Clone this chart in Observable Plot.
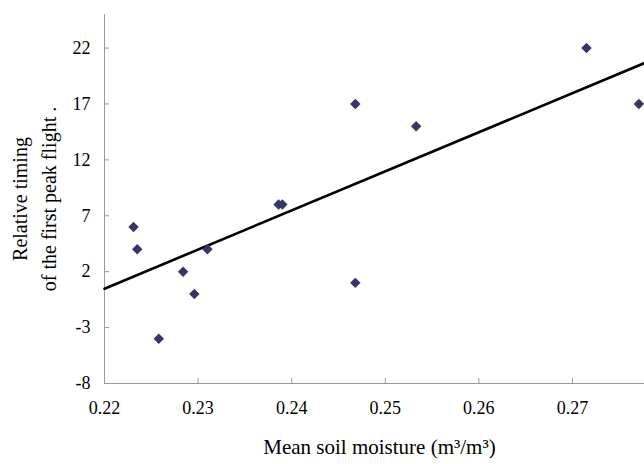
<!DOCTYPE html>
<html>
<head>
<meta charset="utf-8">
<script src="https://cdn.jsdelivr.net/npm/d3@7"></script>
<script src="https://cdn.jsdelivr.net/npm/@observablehq/plot@0.6"></script>
<style>
  html, body { margin: 0; padding: 0; background: #fff; }
  #chart { width: 644px; height: 464px; }
</style>
</head>
<body>
<div id="chart"></div>
<script>
// Data
const soilMoisture = [0.2231, 0.2235, 0.2258, 0.2284, 0.2296, 0.2310, 0.2386, 0.2390, 0.2468, 0.2468, 0.2533, 0.2715, 0.2771];
const relativeTiming = [6, 4, -4, 2, 0, 4, 8, 8, 17, 1, 15, 22, 17];
// Trend line end points (as drawn in the reference)
const trendX = [0.22, 0.2777];
const trendY = [0.48, 20.66];
// Axis ticks
const xTicks = [0.22, 0.23, 0.24, 0.25, 0.26, 0.27];
const yTicks = [-8, -3, 2, 7, 12, 17, 22];
const xDomain = [0.22, 0.2777];
const yDomain = [-8, 25];

const points = soilMoisture.map((x, i) => ({x, y: relativeTiming[i]}));
const trend = trendX.map((x, i) => ({x, y: trendY[i]}));

const axisColor = "#9a9a9a";
const font = "'Liberation Serif', 'Times New Roman', serif";

const chart = Plot.plot({
  width: 644,
  height: 464,
  marginLeft: 104,
  marginRight: 0,
  marginTop: 14,
  marginBottom: 81,
  style: {fontFamily: font, fontSize: "18px", color: "#000", background: "#fff"},
  x: {domain: xDomain, ticks: xTicks},
  y: {domain: yDomain, ticks: yTicks},
  marks: [
    Plot.ruleX([xDomain[0]], {stroke: axisColor, strokeWidth: 1}),
    Plot.ruleY([yDomain[0]], {stroke: axisColor, strokeWidth: 1}),
    Plot.axisX({ticks: xTicks, tickFormat: d => d.toFixed(2), tickSize: -5, tickPadding: 23, stroke: axisColor, fill: "#000", fontSize: 18, label: null}),
    Plot.axisY({ticks: yTicks, tickFormat: d => String(d), tickSize: -5, tickPadding: 19, stroke: axisColor, fill: "#000", fontSize: 18, label: null}),
    Plot.line(trend, {x: "x", y: "y", stroke: "#000", strokeWidth: 2.6}),
    Plot.dot(points, {x: "x", y: "y", symbol: "diamond2", r: 4.7, fill: "#353566", stroke: "none"}),
    Plot.text(["Mean soil moisture (m³/m³)"], {frameAnchor: "bottom", dy: 70, dx: 5, fontSize: 21, fill: "#000"}),
    Plot.text(["Relative timing\nof the first peak flight ."], {frameAnchor: "left", rotate: -90, textAnchor: "middle", dx: -72, fontSize: 20, lineHeight: 1.45, fill: "#000"})
  ]
});
document.getElementById("chart").appendChild(chart);
</script>
</body>
</html>
